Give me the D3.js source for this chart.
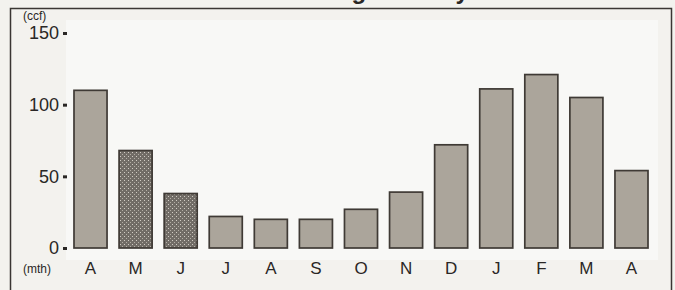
<!DOCTYPE html>
<html>
<head>
<meta charset="utf-8">
<script src="https://cdn.jsdelivr.net/npm/d3@7"></script>
<style>
  body { margin: 0; background: #f3f2ee; }
  text { font-family: "Liberation Sans", Arial, sans-serif; fill: #2a2725; }
</style>
</head>
<body>
<script>
var months = ["A", "M", "J", "J", "A", "S", "O", "N", "D", "J", "F", "M", "A"];
var usage = [110, 68, 38, 22, 20, 20, 27, 39, 72, 111, 121, 105, 54];
// estimated readings are the stippled bars
var estimated = [false, true, true, false, false, false, false, false, false, false, false, false, false];
var yTicks = [0, 50, 100, 150];

var width = 675, height = 290;

var svg = d3.select("body").append("svg")
    .attr("width", width)
    .attr("height", height);

// stipple for estimated bars
var pat = svg.append("defs").append("pattern")
    .attr("id", "stipple")
    .attr("width", 4).attr("height", 4)
    .attr("patternUnits", "userSpaceOnUse");
pat.append("rect").attr("width", 4).attr("height", 4).attr("fill", "#716c66");
pat.append("rect").attr("x", 0).attr("y", 0).attr("width", 1).attr("height", 1).attr("fill", "#d2cdc5");
pat.append("rect").attr("x", 2).attr("y", 2).attr("width", 1).attr("height", 1).attr("fill", "#b3aea5");

// plot background
svg.append("rect")
    .attr("x", 66).attr("y", 20)
    .attr("width", 592).attr("height", 240)
    .attr("fill", "#f8f8f6");

// frame
svg.append("path")
    .attr("d", "M10.5,290 V8.5 H671.5 V290")
    .attr("fill", "none")
    .attr("stroke", "#3a3633")
    .attr("stroke-width", 1.5);

// title, mostly cut off above the frame (as in the scan)
svg.append("text")
    .attr("x", 352).attr("y", -1)
    .attr("text-anchor", "middle")
    .style("font-size", "24px")
    .style("font-weight", "bold")
    .text("Water Usage History");

var x = d3.scaleBand()
    .domain(d3.range(months.length))
    .range([68, 654])
    .paddingInner(0.267)
    .paddingOuter(0.133);

var y = d3.scaleLinear()
    .domain([0, 150])
    .range([248, 33]);

var yAxis = svg.append("g")
    .attr("transform", "translate(67,0)")
    .call(d3.axisLeft(y).tickValues(yTicks).tickSize(4).tickPadding(4));
yAxis.select(".domain").remove();
yAxis.selectAll(".tick line").attr("stroke", "#2a2725").attr("stroke-width", 3);
yAxis.selectAll(".tick text")
    .style("font-size", "18px")
    .attr("fill", "#2a2725");

svg.selectAll("rect.bar")
    .data(usage)
    .enter().append("rect")
    .attr("class", "bar")
    .attr("x", function (d, i) { return x(i); })
    .attr("y", function (d) { return y(d); })
    .attr("width", x.bandwidth())
    .attr("height", function (d) { return y(0) - y(d); })
    .attr("fill", function (d, i) { return estimated[i] ? "url(#stipple)" : "#aba59b"; })
    .attr("stroke", "#3f3a35")
    .attr("stroke-width", 1.7);

var xAxis = svg.append("g")
    .attr("transform", "translate(0,262)")
    .call(d3.axisBottom(x).tickFormat(function (i) { return months[i]; }).tickSize(0).tickPadding(0));
xAxis.select(".domain").remove();
xAxis.selectAll(".tick text")
    .style("font-size", "17px")
    .attr("fill", "#2a2725");

svg.append("text")
    .attr("x", 23).attr("y", 20)
    .style("font-size", "12px")
    .text("(ccf)");

svg.append("text")
    .attr("x", 23).attr("y", 273)
    .style("font-size", "12px")
    .text("(mth)");
</script>
</body>
</html>
